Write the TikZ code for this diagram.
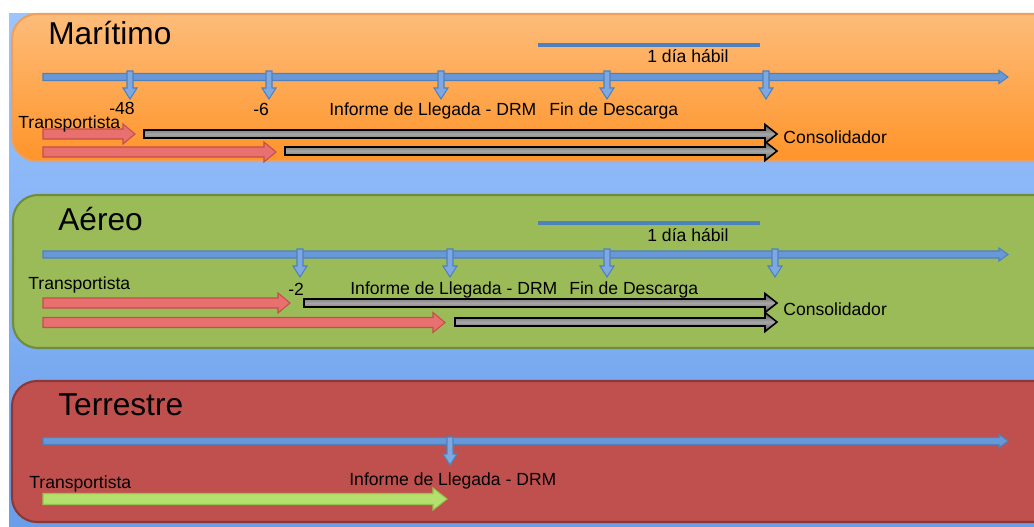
\documentclass[tikz,border=0pt]{standalone}
\usepackage{fontspec}
\setmainfont{Liberation Sans}

\definecolor{bgtop}{RGB}{157,196,255}
\definecolor{bgbot}{RGB}{105,158,233}
\definecolor{orgtop}{RGB}{253,188,122}
\definecolor{orgbot}{RGB}{255,148,42}
\definecolor{orgline}{RGB}{238,160,90}
\definecolor{grnfill}{RGB}{155,187,89}
\definecolor{grnline}{RGB}{113,140,58}
\definecolor{redfill}{RGB}{192,80,77}
\definecolor{redline}{RGB}{140,56,54}
\definecolor{lineblue}{RGB}{79,129,189}
\definecolor{tlfill}{RGB}{104,152,216}
\definecolor{tickfill}{RGB}{125,168,226}
\definecolor{cfill}{RGB}{232,112,110}
\definecolor{cline}{RGB}{196,78,76}
\definecolor{rfill}{RGB}{180,224,110}
\definecolor{rline}{RGB}{146,196,78}

% horizontal block arrow: style, x start, x tip, y, body half, head half, head length
\newcommand{\blockarrow}[7]{%
  \draw[#1] (#2,{#4-#5}) -- ({#3-#7},{#4-#5}) -- ({#3-#7},{#4-#6}) -- (#3,#4)
    -- ({#3-#7},{#4+#6}) -- ({#3-#7},{#4+#5}) -- (#2,{#4+#5}) -- cycle;}
% downward tick on a timeline: x, y top, y tip
\newcommand{\downtick}[3]{%
  \draw[tickarrow] ({#1-3},#2) -- ({#1-3},{#3-11}) -- ({#1-7},{#3-11}) -- (#1,#3)
    -- ({#1+7},{#3-11}) -- ({#1+3},{#3-11}) -- ({#1+3},#2) -- cycle;}

\begin{document}
\begin{tikzpicture}[
x=0.02cm, y=-0.02cm,
panel/.style={rounded corners=0.5cm, line width=1.2pt},
timeline/.style={fill=tlfill, draw=lineblue, line width=0.6pt},
tickarrow/.style={fill=tickfill, draw=lineblue, line width=0.6pt},
carrier/.style={fill=cfill, draw=cline, line width=0.6pt},
consol/.style={top color=black!65, bottom color=black!65, middle color=black!35, draw=black, line width=0.9pt},
road/.style={fill=rfill, draw=rline, line width=0.6pt},
span/.style={draw=lineblue, line width=2.3pt},
lbl/.style={anchor=base west, inner sep=0pt, font=\fontsize{10}{12}\selectfont},
title/.style={anchor=base west, inner sep=0pt, font=\fontsize{18}{20}\selectfont}
]
\useasboundingbox (0,0) rectangle (1034,527);
\clip (0,0) rectangle (1034,527);

% background
\fill[white] (0,0) rectangle (1034,527);
\shade[top color=bgtop, bottom color=bgbot] (9,14) rectangle (1034,527);

% panels
\draw[panel, top color=orgtop, bottom color=orgbot, draw=orgline] (12,14) rectangle (1070,161);
\draw[panel, fill=grnfill, draw=grnline] (13,195) rectangle (1070,348);
\draw[panel, fill=redfill, draw=redline] (12,381) rectangle (1070,522);

% Maritimo
\draw[span] (538,45) -- (760,45);
\blockarrow{timeline}{43}{1008}{77}{3.5}{6.5}{9}
\downtick{130}{71}{99}
\downtick{269}{71}{99}
\downtick{441}{71}{99}
\downtick{607}{71}{99}
\downtick{766}{71}{99}
\blockarrow{carrier}{43}{135}{134}{5}{10}{12}
\blockarrow{carrier}{43}{276}{152}{5}{10}{12}
\blockarrow{consol}{144}{777}{134}{4}{9.5}{12}
\blockarrow{consol}{285}{777}{151}{4}{9.5}{12}

\node[title] (mar-title) at (48,45) {Marítimo};
\node[lbl] (mar-dia) at (647,63) {1 día hábil};
\node[lbl] (mar-48) at (109,114) {-48};
\node[lbl] (mar-6) at (253,115) {-6};
\node[lbl] (mar-drm) at (329,115) {Informe de Llegada - DRM};
\node[lbl] (mar-fin) at (549,115) {Fin de Descarga};
\node[lbl] (mar-trans) at (18,129) {Transportista};
\node[lbl] (mar-cons) at (783,143) {Consolidador};

% Aereo
\draw[span] (538,223) -- (760,223);
\blockarrow{timeline}{43}{1008}{254.5}{3.5}{6.5}{9}
\downtick{300}{249}{277}
\downtick{450}{249}{277}
\downtick{607}{249}{277}
\downtick{775}{249}{277}
\blockarrow{carrier}{43}{290}{303}{5}{10}{12}
\blockarrow{carrier}{43}{445}{322.5}{5}{10}{12}
\blockarrow{consol}{304}{777}{303}{4}{9.5}{12}
\blockarrow{consol}{455}{777}{322}{4}{9.5}{12}

\node[title] (aer-title) at (58,230) {Aéreo};
\node[lbl] (aer-dia) at (647,241) {1 día hábil};
\node[lbl] (aer-trans) at (28,289) {Transportista};
\node[lbl] (aer-2) at (288,295) {-2};
\node[lbl] (aer-drm) at (350,294) {Informe de Llegada - DRM};
\node[lbl] (aer-fin) at (569,294) {Fin de Descarga};
\node[lbl] (aer-cons) at (783,315) {Consolidador};

% Terrestre
\blockarrow{timeline}{43}{1008}{441}{3.5}{6.5}{9}
\downtick{450}{437}{465}
\blockarrow{road}{43}{447}{499}{5.5}{11}{14}

\node[title] (ter-title) at (58,415) {Terrestre};
\node[lbl] (ter-drm) at (349,485) {Informe de Llegada - DRM};
\node[lbl] (ter-trans) at (29,488) {Transportista};

\end{tikzpicture}
\end{document}
